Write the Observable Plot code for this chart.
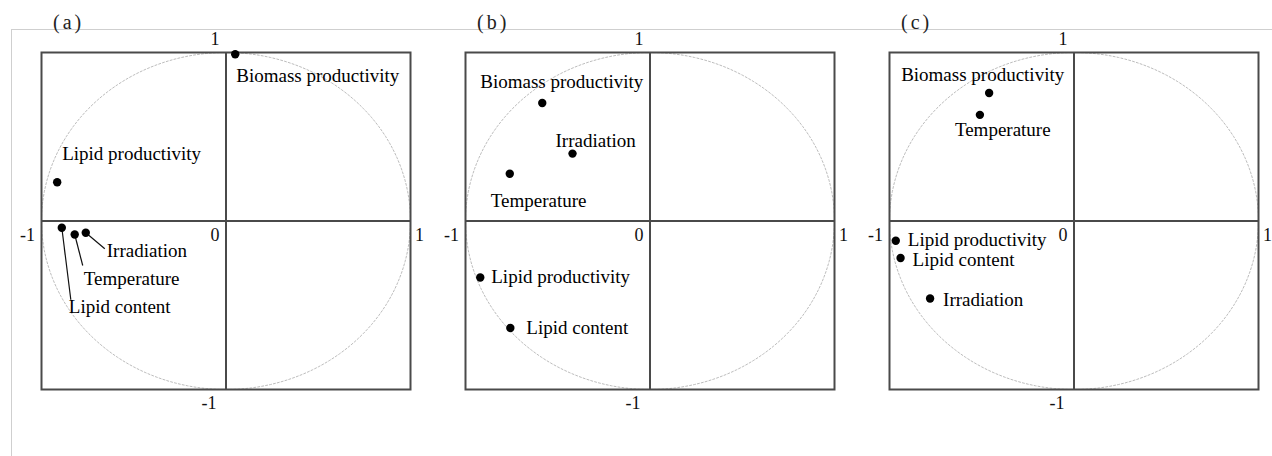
<!DOCTYPE html>
<html>
<head>
<meta charset="utf-8">
<script src="https://cdn.jsdelivr.net/npm/d3@7"></script>
<script src="https://cdn.jsdelivr.net/npm/@observablehq/plot@0.6"></script>
<style>
  html, body { margin: 0; padding: 0; background: #fff; }
  #root { position: relative; width: 1272px; height: 456px; overflow: hidden; background: #fff; }
  #outer { position: absolute; left: 11px; top: 29px; width: 1300px; height: 500px;
           border-top: 1px solid #cfcfcf; border-left: 1px solid #cfcfcf; }
  .panel { position: absolute; top: 0; }
  .plab { position: absolute; top: 10px; font: 20px "Liberation Serif", serif; letter-spacing: 3px; color: #222; line-height: 24px; }
</style>
</head>
<body>
<div id="root"><div id="outer"></div></div>
<script>
// ---- data ----
const panels = ["(a)", "(b)", "(c)"];
const variables = ["Biomass productivity", "Lipid productivity", "Lipid content", "Temperature", "Irradiation"];
// loadings on component 1 (x) and component 2 (y), per panel, in variables order
const loadX_a = [0.05, -0.915, -0.89, -0.82, -0.76];
const loadY_a = [0.99, 0.23, -0.04, -0.08, -0.07];
const loadX_b = [-0.584, -0.92, -0.757, -0.76, -0.42];
const loadY_b = [0.70, -0.335, -0.635, 0.28, 0.40];
const loadX_c = [-0.46, -0.966, -0.94, -0.51, -0.78];
const loadY_c = [0.76, -0.117, -0.22, 0.63, -0.46];
const tickLabels = [
  {x: 0, y: 1, t: "1", side: "top"},
  {x: -1, y: 0, t: "-1", side: "left"},
  {x: 0, y: 0, t: "0", side: "center"},
  {x: 1, y: 0, t: "1", side: "right"},
  {x: 0, y: -1, t: "-1", side: "bottom"}
];

// ---- layout (pixel offsets for labels) ----
const W = 424, H = 456;
const M = {left: 41, right: 14, top: 52, bottom: 67};
const kx = (W - M.left - M.right) / 2, ky = (H - M.top - M.bottom) / 2;
// label offsets [dx, dy] in px from point to label start (text anchored start, middle)
const labelOff = {
  "(a)": [[1, 22], [5, -28], [7, 79], [9, 44], [21, 18]],
  "(b)": [[-62, -21], [11, -1], [16, 0], [-19, 27], [-17, -13]],
  "(c)": [[-88, -18], [12, -1], [12, 2], [-25, 15], [13, 1]]
};
// leader lines only in panel (a): [dx, dy] of line end
const leaderOff = {
  "(a)": [null, null, [9, 72], [8, 31], [19, 16]],
  "(b)": [null, null, null, null, null],
  "(c)": [null, null, null, null, null]
};
const tickOff = {
  top: [-11, -13], left: [-14, 14], center: [-11, 14], right: [9, 14], bottom: [-17, 14]
};

const loads = [[loadX_a, loadY_a], [loadX_b, loadY_b], [loadX_c, loadY_c]];
const circle = d3.range(0, 361, 2).map(a => ({x: Math.cos(a * Math.PI / 180), y: Math.sin(a * Math.PI / 180)}));
const FONT = "Liberation Serif, Times New Roman, serif";
const root = document.getElementById("root");

panels.forEach((p, i) => {
  const [xs, ys] = loads[i];
  const pts = variables.map((v, j) => {
    const o = labelOff[p][j], l = leaderOff[p][j];
    return {
      name: v, x: xs[j], y: ys[j],
      lx: xs[j] + o[0] / kx, ly: ys[j] - o[1] / ky,
      ex: l ? xs[j] + l[0] / kx : null, ey: l ? ys[j] - l[1] / ky : null
    };
  });
  const leaders = pts.filter(d => d.ex !== null);
  const ticks = tickLabels.map(t => ({
    ...t, tx: t.x + tickOff[t.side][0] / kx, ty: t.y - tickOff[t.side][1] / ky
  }));
  const chart = Plot.plot({
    width: W, height: H,
    marginLeft: M.left, marginRight: M.right, marginTop: M.top, marginBottom: M.bottom,
    x: {domain: [-1, 1], axis: null},
    y: {domain: [-1, 1], axis: null},
    style: {background: "transparent", overflow: "visible"},
    marks: [
      Plot.line(circle, {x: "x", y: "y", stroke: "#bdbdbd", strokeWidth: 1, strokeDasharray: "2,2"}),
      Plot.ruleX([0], {stroke: "#4a4a4a", strokeWidth: 2}),
      Plot.ruleY([0], {stroke: "#4a4a4a", strokeWidth: 2}),
      Plot.frame({stroke: "#4a4a4a", strokeWidth: 2}),
      Plot.link(leaders, {x1: "x", y1: "y", x2: "ex", y2: "ey", stroke: "#111", strokeWidth: 1.2}),
      Plot.dot(pts, {x: "x", y: "y", r: 4.2, fill: "#000"}),
      Plot.text(pts, {x: "lx", y: "ly", text: "name", textAnchor: "start", lineAnchor: "middle",
        fontSize: 19, fontFamily: FONT, fill: "#000", style: "letter-spacing:0.3px"}),
      Plot.text(ticks, {x: "tx", y: "ty", text: "t", textAnchor: "middle", lineAnchor: "middle",
        fontSize: 18, fontFamily: FONT, fill: "#111"})
    ]
  });
  chart.classList.add("panel");
  chart.style.left = (i * W) + "px";
  root.appendChild(chart);
  const lab = document.createElement("div");
  lab.className = "plab";
  lab.textContent = p;
  lab.style.left = (i * W + 53) + "px";
  root.appendChild(lab);
});
</script>
</body>
</html>
